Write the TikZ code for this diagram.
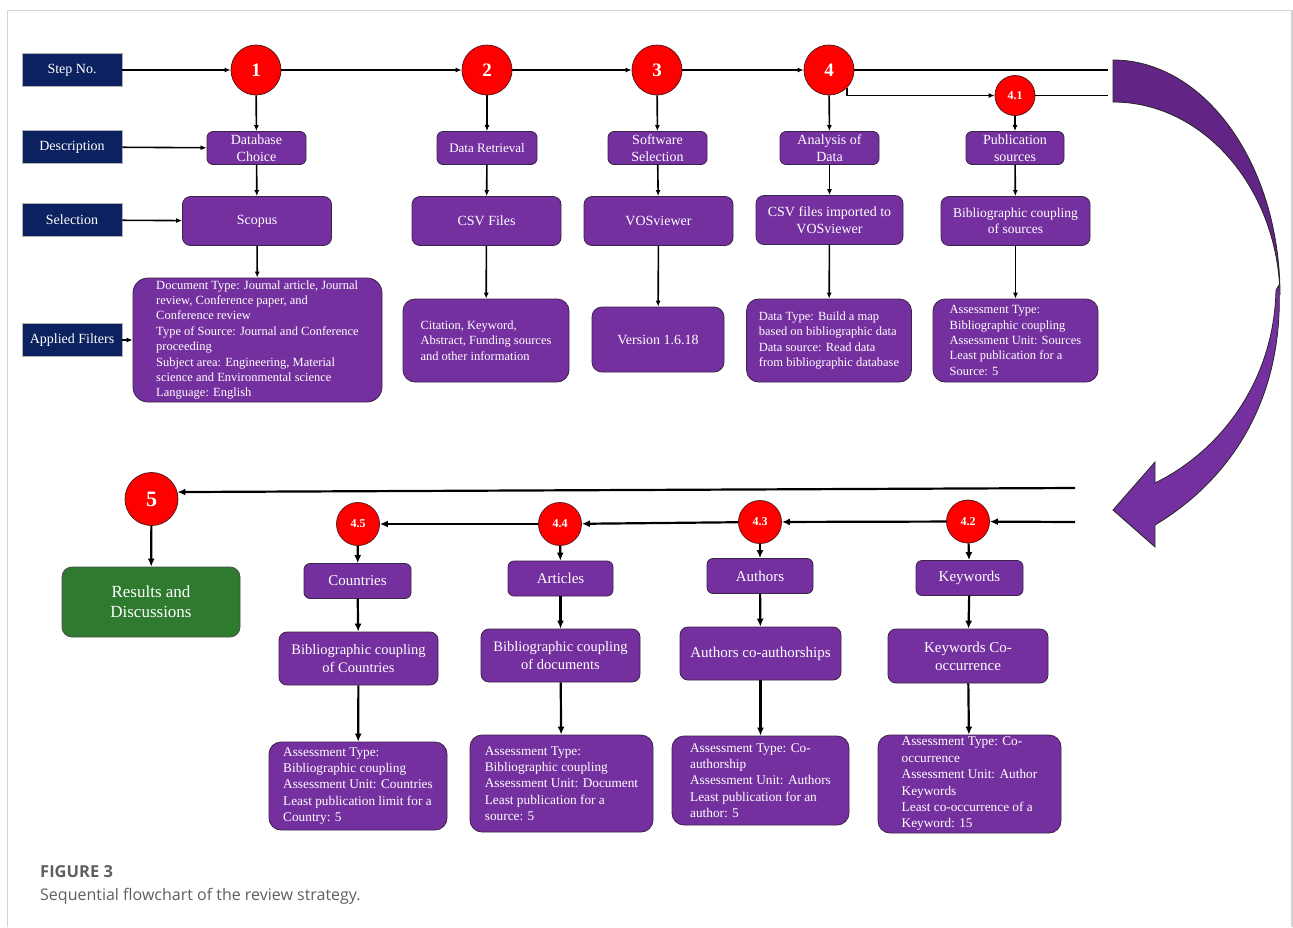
\documentclass[tikz,border=0pt]{standalone}
\usepackage{fontspec}
\setmainfont{Liberation Serif}
\newfontfamily\capfont{Open Sans}
\usetikzlibrary{arrows.meta}

\definecolor{navy}{HTML}{0B2160}
\definecolor{pptpurple}{HTML}{7530A0}
\definecolor{boxedge}{HTML}{3A2346}
\definecolor{arrowback}{HTML}{622485}
\definecolor{stepred}{HTML}{FF0000}
\definecolor{rededge}{HTML}{5A1A1A}
\definecolor{resgreen}{HTML}{2E7A2E}
\definecolor{framegray}{HTML}{D4D4D4}
\definecolor{capgray}{HTML}{5F5F5F}

\newcommand\fsz[2]{\fontsize{#1}{#2}\selectfont}

\tikzset{
  rowlabel/.style={draw=gray!60, line width=0.8pt, fill=navy, text=white,
    minimum width=100pt, minimum height=33pt, inner sep=0pt, font=\fsz{14}{16}},
  stepcircle/.style={circle, draw=rededge, line width=0.8pt, fill=stepred, text=white,
    inner sep=0pt, minimum size=50pt, font=\bfseries\fsz{19}{19}},
  subcircle/.style={stepcircle, minimum size=43pt, font=\bfseries\fsz{12}{12}},
  pbox/.style={draw=boxedge, line width=0.8pt, fill=pptpurple, text=white,
    rounded corners=6pt, inner sep=0pt, align=center},
  descbox/.style={pbox, minimum height=33pt, font=\fsz{14}{16.5}},
  selbox/.style={pbox, minimum width=149pt, minimum height=49pt, rounded corners=8pt, font=\fsz{14}{17}},
  infobox/.style={pbox, rounded corners=12pt, align=left, font=\fsz{12.5}{15.4}},
  catbox/.style={pbox, minimum height=35pt, font=\fsz{15}{17}},
  methbox/.style={pbox, minimum height=53pt, rounded corners=8pt, font=\fsz{14.5}{17.5}},
  evalbox/.style={pbox, rounded corners=12pt, align=left, font=\fsz{13.3}{16.4}},
  flow/.style={line width=1.6pt, -{Latex[length=6pt,width=5pt]}},
  flowb/.style={line width=2.2pt, -{Latex[length=8pt,width=7pt]}},
  plainline/.style={line width=1.6pt},
}

\begin{document}
\begin{tikzpicture}[x=1pt,y=-1pt]
\useasboundingbox (0,0) rectangle (1293,927);

% page frame
\draw[framegray, line width=1.5pt] (7.5,927) -- (7.5,10.5) -- (1292,10.5) -- (1292,927);

% row labels
\node[rowlabel] (lstep) at (72,70)  {Step No.};
\node[rowlabel] (ldesc) at (72,147) {Description};
\node[rowlabel] (lsel)  at (72,220) {Selection};
\node[rowlabel] (lfilt) at (72,340) {Applied Filters};

% step circles, upper row
\node[stepcircle] (c1) at (256,70) {1};
\node[stepcircle] (c2) at (487,70) {2};
\node[stepcircle] (c3) at (657,70) {3};
\node[stepcircle] (c4) at (829,70) {4};
\node[subcircle, minimum size=40pt] (c41) at (1015,95.5) {4.1};

% descriptions
\node[descbox, minimum width=99pt]  (d1)  at (256.5,148) {Database\\Choice};
\node[descbox, minimum width=100pt, font=\fsz{13}{15}] (d2) at (487,148) {Data Retrieval};
\node[descbox, minimum width=99pt]  (d3)  at (657.5,148) {Software\\Selection};
\node[descbox, minimum width=99pt]  (d4)  at (829.5,148) {Analysis of\\Data};
\node[descbox, minimum width=98pt]  (d41) at (1015,148) {Publication\\sources};

% selections
\node[selbox] (s1)  at (257,221)    {Scopus};
\node[selbox] (s2)  at (486.5,221)  {CSV Files};
\node[selbox] (s3)  at (658.5,221)  {VOSviewer};
\node[selbox, minimum width=147pt] (s4) at (829.5,220) {CSV files imported to\\VOSviewer};
\node[selbox, font=\fsz{13.5}{16.5}] (s41) at (1015.5,221) {Bibliographic coupling\\of sources};

% filters and settings
\node[infobox, minimum width=249pt, minimum height=124pt, rounded corners=15pt] (f1) at (257.5,340)
  {Document Type: Journal article, Journal\\review, Conference paper, and\\Conference review\\Type of Source: Journal and Conference\\proceeding\\Subject area: Engineering, Material\\science and Environmental science\\Language: English};
\node[infobox, minimum width=166pt, minimum height=83pt] (f2) at (486,340.5)
  {Citation, Keyword,\\Abstract, Funding sources\\and other information};
\node[pbox, rounded corners=10pt, minimum width=132pt, minimum height=65pt, font=\fsz{14}{16}] (f3) at (658,339.5)
  {Version 1.6.18};
\node[infobox, minimum width=165pt, minimum height=83pt] (f4) at (829,340.5)
  {Data Type: Build a map\\based on bibliographic data\\Data source: Read data\\from bibliographic database};
\node[infobox, minimum width=165pt, minimum height=83pt] (f41) at (1015.5,340.5)
  {Assessment Type:\\Bibliographic coupling\\Assessment Unit: Sources\\Least publication for a\\Source: 5};

% upper row connectors
\draw[flow] (lstep) -- (c1);
\draw[flow] (ldesc) -- (d1);
\draw[flow] (lsel) -- (s1);
\draw[flow] (lfilt) -- (f1);
\draw[flow] (c1) -- (c2);
\draw[flow] (c2) -- (c3);
\draw[flow] (c3) -- (c4);
\coordinate (topout) at (1108,70);
\coordinate (subout) at (1108,95.5);
\draw[plainline] (c4) -- (topout);
\draw[flow] (c4.-45) |- (c41);
\draw[plainline] (c41) -- (subout);
\foreach \c/\d/\s/\f in {c1/d1/s1/f1, c2/d2/s2/f2, c3/d3/s3/f3, c4/d4/s4/f4, c41/d41/s41/f41}{
  \draw[flow] (\c) -- (\d);
  \draw[flow] (\d) -- (\s);
  \draw[flow] (\s) -- (\f);
}

% curved transfer arrow, back face then front face
\filldraw[fill=arrowback, draw=black!85, line width=0.8pt]
  (1113,60) .. controls (1205,60) and (1280,165) .. (1280,295)
  .. controls (1278,189) and (1204,102) .. (1113,102) -- cycle;
\filldraw[fill=pptpurple, draw=black!85, line width=0.8pt]
  (1279,285) .. controls (1284,400) and (1230,480) .. (1155,525)
  -- (1155,547) -- (1113,510) -- (1155,462) -- (1155,483)
  .. controls (1222,450) and (1274,380) .. (1276,290) -- cycle;

% lower row circles
\node[stepcircle, minimum size=53pt, font=\bfseries\fsz{22}{22}] (c5) at (151.5,499) {5};
\node[subcircle] (c45) at (358,524)   {4.5};
\node[subcircle] (c44) at (560,524)   {4.4};
\node[subcircle] (c43) at (760,522)   {4.3};
\node[subcircle] (c42) at (968,521.5) {4.2};

% lower row boxes
\node[pbox, fill=resgreen, draw=black!70, rounded corners=10pt, minimum width=178pt, minimum height=70pt,
      font=\fsz{17}{20}] (r5) at (151,602) {Results and\\Discussions};

\node[catbox, minimum width=107pt] (k45) at (357.5,581)  {Countries};
\node[catbox, minimum width=105pt] (k44) at (560.5,578.5) {Articles};
\node[catbox, minimum width=106pt] (k43) at (760,576)    {Authors};
\node[catbox, minimum width=107pt] (k42) at (969.5,578)  {Keywords};

\node[methbox, minimum width=159pt] (m45) at (358.5,658.5) {Bibliographic coupling\\of Countries};
\node[methbox, minimum width=159pt] (m44) at (560.5,655.5) {Bibliographic coupling\\of documents};
\node[methbox, minimum width=161pt, font=\fsz{15}{17.5}] (m43) at (760.5,653.5) {Authors co-authorships};
\node[methbox, minimum width=160pt, minimum height=54pt, font=\fsz{15}{18}] (m42) at (968,656) {Keywords Co-\\occurrence};

\node[evalbox, minimum width=178pt, minimum height=88pt] (a45) at (358,786)
  {Assessment Type:\\Bibliographic coupling\\Assessment Unit: Countries\\Least publication limit for a\\Country: 5};
\node[evalbox, minimum width=183pt, minimum height=97pt] (a44) at (561.5,783.5)
  {Assessment Type:\\Bibliographic coupling\\Assessment Unit: Document\\Least publication for a\\source: 5};
\node[evalbox, minimum width=177pt, minimum height=89pt] (a43) at (760.5,780.5)
  {Assessment Type: Co-\\authorship\\Assessment Unit: Authors\\Least publication for an\\author: 5};
\node[evalbox, minimum width=183pt, minimum height=98pt] (a42) at (969.5,784)
  {Assessment Type: Co-\\occurrence\\Assessment Unit: Author\\Keywords\\Least co-occurrence of a\\Keyword: 15};

% lower row connectors
\coordinate (finalin) at (1075,488);
\coordinate (subin) at (1075,522);
\draw[flowb] (finalin) -- (c5.15);
\draw[flowb] (subin) -- (c42);
\draw[flowb] (c42) -- (c43);
\draw[flowb] (c43) -- (c44);
\draw[flowb] (c44) -- (c45);
\draw[flowb] (c5) -- (r5);
\foreach \c/\k/\m/\a in {c45/k45/m45/a45, c44/k44/m44/a44, c43/k43/m43/a43, c42/k42/m42/a42}{
  \draw[flowb] (\c) -- (\k);
  \draw[flowb] (\k) -- (\m);
  \draw[flowb] (\m) -- (\a);
}

% caption
\node[anchor=base west, inner sep=0pt, text=capgray, font=\capfont\bfseries\fsz{16.5}{18}] (figlabel) at (40,877) {FIGURE 3};
\node[anchor=base west, inner sep=0pt, text=capgray, font=\capfont\fsz{16}{18}] (figcaption) at (40,900) {Sequential flowchart of the review strategy.};
\end{tikzpicture}
\end{document}
